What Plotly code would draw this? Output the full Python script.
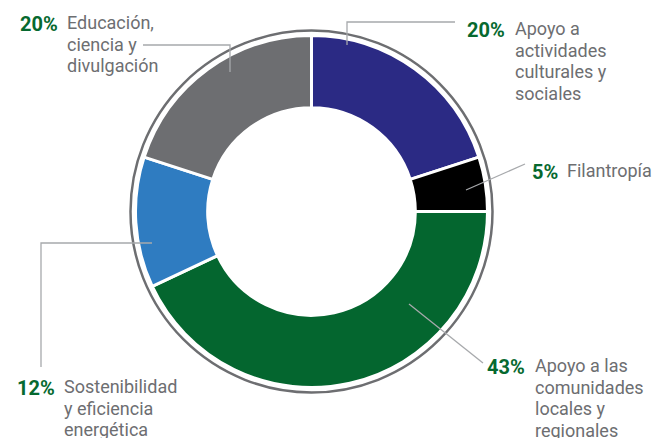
import plotly.graph_objects as go

# slices, clockwise from 12 o'clock
labels = ['Apoyo a actividades culturales y sociales', 'Filantropía',
          'Apoyo a las comunidades locales y regionales',
          'Sostenibilidad y eficiencia energética',
          'Educación, ciencia y divulgación']
values = [20, 5, 43, 12, 20]
colors = ['#2b2a84', '#000000', '#04662f', '#2f7cc1', '#6d6e71']

pct_text = ['20%', '5%', '43%', '12%', '20%']
label_lines = [['Apoyo a', 'actividades', 'culturales y', 'sociales'],
               ['Filantropía'],
               ['Apoyo a las', 'comunidades', 'locales y', 'regionales'],
               ['Sostenibilidad', 'y eficiencia', 'energética'],
               ['Educación,', 'ciencia y', 'divulgación']]

W, H = 660, 438
OFF = 8  # the page body has an 8px margin; axis units are screen pixels
cx, cy, r = 311.5, 211.5, 176

fig = go.Figure()
fig.add_trace(go.Pie(
    labels=labels, values=values, sort=False, direction='clockwise',
    hole=0.59, textinfo='none', hoverinfo='label+percent',
    marker=dict(colors=colors, line=dict(color='white', width=3)),
    domain=dict(x=[(cx - OFF - r) / W, (cx - OFF + r) / W],
                y=[(H - (cy - OFF) - r) / H, (H - (cy - OFF) + r) / H]),
))

ring = 181
shapes = [dict(type='circle', xref='x', yref='y', x0=cx - ring, x1=cx + ring,
               y0=cy - ring, y1=cy + ring, line=dict(color='#6d6e71', width=2.5))]

leader = dict(color='#a7a9ac', width=1.3)
paths = [
    'M 347 45 L 347 22 L 455 22',
    'M 466 190 L 525 164',
    'M 409 304 L 483 363',
    'M 152 243 L 41 243 L 41 367',
    'M 143 45 L 230 45 L 230 72',
]
for p in paths:
    shapes.append(dict(type='path', xref='x', yref='y', path=p, line=leader))

# label anchors: (percent right edge, text left edge, first baseline)
pos = [(507, 513, 35), (560, 565, 177), (527, 533, 372), (57, 62, 393), (60, 65, 29)]
step = 21.7
asc = 19

ann = []
font = 'Roboto, Arial, sans-serif'
for (pr, tl, base), p, lines in zip(pos, pct_text, label_lines):
    ann.append(dict(x=pr, y=base - asc - 0.5, xref='x', yref='y', xanchor='right', yanchor='top',
                    text='<b>' + p + '</b>', showarrow=False,
                    font=dict(family=font, size=20, color='#06692f')))
    for i, t in enumerate(lines):
        ann.append(dict(x=tl, y=base - asc + i * step, xref='x', yref='y',
                        xanchor='left', yanchor='top', text=t, showarrow=False,
                        font=dict(family=font, size=18, color='#6d6e71')))

fig.update_layout(
    width=W, height=H, margin=dict(l=0, r=0, t=0, b=0),
    paper_bgcolor='white', plot_bgcolor='white', showlegend=False,
    xaxis=dict(range=[OFF, W + OFF], visible=False, fixedrange=True),
    yaxis=dict(range=[H + OFF, OFF], visible=False, fixedrange=True),
    shapes=shapes, annotations=ann,
)

fig.write_html('out.html')
